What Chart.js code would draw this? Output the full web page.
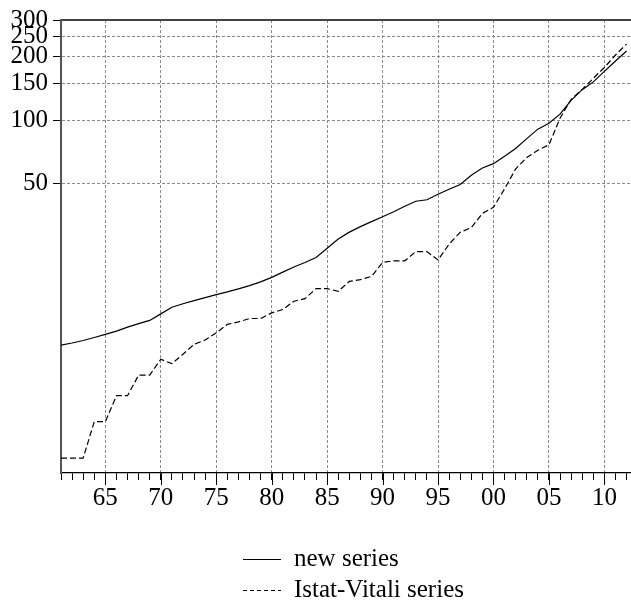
<!DOCTYPE html>
<html>
<head>
<meta charset="utf-8">
<script src="https://cdn.jsdelivr.net/npm/chart.js@4/dist/chart.umd.min.js"></script>
<style>
  html, body { margin: 0; padding: 0; background: #fff; }
  #wrap { width: 631px; height: 604px; }
</style>
</head>
<body>
<div id="wrap"><canvas id="chart" width="631" height="604"></canvas></div>
<script>
// years 1961-2012
const years = [];
for (let y = 1961; y <= 2012; y++) years.push(y);

const newSeries = [
  8.44, 8.63, 8.87, 9.17, 9.49, 9.84, 10.28, 10.68, 11.06, 11.89,
  12.79, 13.28, 13.76, 14.21, 14.69, 15.14, 15.65, 16.21, 16.90, 17.75,
  18.80, 19.90, 20.91, 22.09, 24.45, 27.03, 29.18, 31.00, 32.74, 34.57,
  36.52, 38.78, 40.96, 41.64, 44.21, 46.70, 49.21, 54.54, 59.06, 61.90,
  67.12, 73.10, 81.54, 90.46, 96.59, 106.6, 124.2, 139.6, 152.0, 170.5,
  191.2, 213.3
];

const istatVitali = [
  2.44, 2.44, 2.44, 3.64, 3.64, 4.84, 4.84, 6.07, 6.07, 7.22,
  6.88, 7.63, 8.51, 8.92, 9.66, 10.59, 10.89, 11.30, 11.30, 12.02,
  12.47, 13.66, 14.06, 15.69, 15.69, 15.24, 16.99, 17.31, 17.94, 20.91,
  21.30, 21.30, 23.58, 23.58, 21.49, 25.59, 29.12, 30.66, 35.85, 38.36,
  46.96, 58.43, 66.24, 71.67, 76.20, 102.0, 125.6, 140.0, 158.0, 178.1,
  204.2, 230.3
];

const yTicks = [50, 100, 150, 200, 250, 300];
const seriesNames = ["new series", "Istat-Vitali series"];

const FONT = "'Liberation Serif', 'Times New Roman', serif";
Chart.defaults.font.family = FONT;
Chart.defaults.font.size = 25;
Chart.defaults.color = "#000";

const toPoints = (vals) => vals.map((v, i) => ({ x: years[i], y: v }));

// longer tick marks every five years
const majorTicks = {
  id: "majorTicks",
  afterDraw(chart) {
    const xs = chart.scales.x;
    const ctx = chart.ctx;
    ctx.save();
    ctx.strokeStyle = "#000";
    ctx.lineWidth = 1;
    years.filter((v) => v % 5 === 0).forEach((v) => {
      const px = Math.round(xs.getPixelForValue(v)) + 0.5;
      ctx.beginPath();
      ctx.moveTo(px, xs.top);
      ctx.lineTo(px, xs.top + 12);
      ctx.stroke();
    });
    ctx.restore();
  }
};

// legend drawn as two stacked rows under the axis
const stackedLegend = {
  id: "stackedLegend",
  afterDraw(chart) {
    const ctx = chart.ctx;
    const rows = [559, 590];
    ctx.save();
    chart.data.datasets.forEach((ds, i) => {
      const y = rows[i];
      ctx.strokeStyle = ds.borderColor;
      ctx.lineWidth = 1;
      ctx.setLineDash(ds.borderDash ? [4, 3] : []);
      ctx.beginPath();
      ctx.moveTo(243, y + 0.5);
      ctx.lineTo(281, y + 0.5);
      ctx.stroke();
      ctx.setLineDash([]);
      ctx.fillStyle = "#000";
      ctx.font = "25px " + FONT;
      ctx.textBaseline = "middle";
      ctx.fillText(ds.label, 294, y);
    });
    ctx.restore();
  }
};

new Chart(document.getElementById("chart"), {
  type: "line",
  data: {
    datasets: [
      {
        label: seriesNames[0],
        data: toPoints(newSeries),
        borderColor: "#000",
        borderWidth: 1.2,
        pointRadius: 0,
        tension: 0
      },
      {
        label: seriesNames[1],
        data: toPoints(istatVitali),
        borderColor: "#000",
        borderWidth: 1.2,
        borderDash: [6, 3],
        pointRadius: 0,
        tension: 0
      }
    ]
  },
  options: {
    responsive: false,
    animation: false,
    layout: { padding: { top: 17, right: 0, bottom: 0, left: 0 } },
    plugins: { legend: { display: false }, tooltip: { enabled: false } },
    scales: {
      x: {
        type: "linear",
        position: "bottom",
        min: 1961,
        max: 2012.4,
        afterBuildTicks: (scale) => {
          scale.ticks = years.map((v) => ({ value: v }));
        },
        afterFit: (scale) => { scale.height = 131; },
        ticks: {
          autoSkip: false,
          maxRotation: 0,
          padding: 3,
          callback: (v) => (v % 5 === 0 ? String(v % 100).padStart(2, "0") : "")
        },
        grid: {
          color: (c) => (c.tick && c.tick.value % 5 === 0 ? "#8a8a8a" : "transparent"),
          lineWidth: 1,
          tickColor: "#000",
          tickLength: 7,
          tickWidth: 1
        },
        border: { display: true, color: "#000", width: 1.3, dash: [3, 2] }
      },
      xTop: {
        type: "linear",
        position: "top",
        min: 1961,
        max: 2012.4,
        afterFit: (scale) => { scale.height = 0; },
        ticks: { display: false },
        grid: { drawOnChartArea: false, drawTicks: false },
        border: { display: true, color: "#444", width: 2 }
      },
      y: {
        type: "logarithmic",
        min: 2.07,
        max: 300,
        afterBuildTicks: (scale) => {
          scale.ticks = yTicks.map((v) => ({ value: v }));
        },
        afterFit: (scale) => { scale.width = 61; },
        ticks: {
          padding: 5,
          callback: (v) => String(v)
        },
        grid: {
          color: "#8a8a8a",
          lineWidth: 1,
          tickColor: "#000",
          tickLength: 8
        },
        border: { display: true, color: "#555", width: 2, dash: [3, 2] }
      }
    }
  },
  plugins: [majorTicks, stackedLegend]
});
</script>
</body>
</html>
